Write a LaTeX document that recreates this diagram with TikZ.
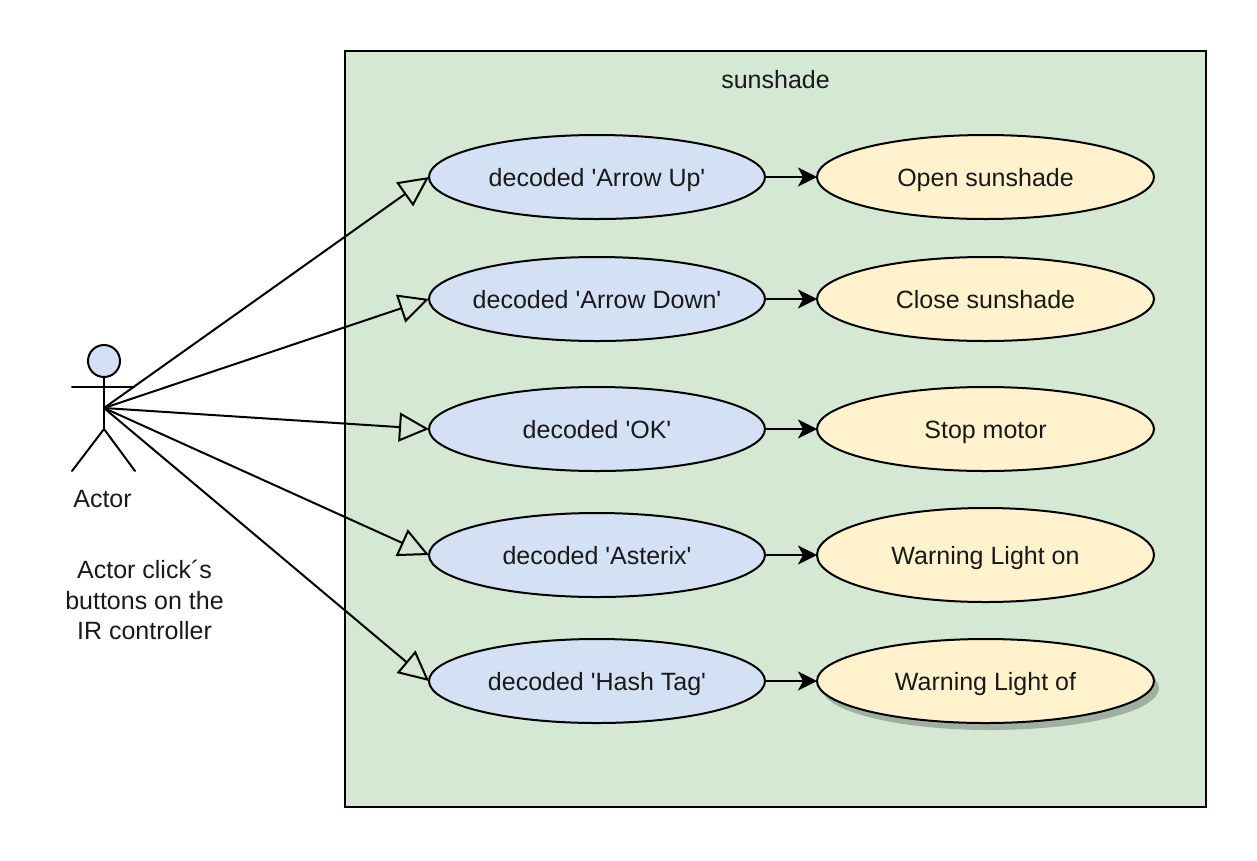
\documentclass[tikz,border=0pt]{standalone}
\usepackage{fontspec}
\setmainfont{Liberation Sans}[Ligatures=TeXOff]
\usetikzlibrary{arrows.meta,shapes.geometric,shadows}
\definecolor{boxgreen}{HTML}{D5E8D4}
\definecolor{ucblue}{HTML}{D4E1F5}
\definecolor{ucyellow}{HTML}{FFF2CC}
\definecolor{shadowgreen}{HTML}{9FB0A0}
\tikzset{
  every node/.style={font=\fontsize{25}{30.5}\selectfont, text=black!90},
  usecase/.style={ellipse, draw=black, line width=2pt, inner xsep=-50pt, inner ysep=0pt, outer sep=0pt, minimum width=336pt, minimum height=84pt, text height=24pt, text depth=6pt},
  trigger/.style={usecase, fill=ucblue},
  result/.style={usecase, fill=ucyellow, minimum width=337pt},
  gen/.style={line width=2pt, -{Triangle[open, length=30pt, width=29pt, line width=2pt]}},
  flow/.style={line width=2pt, -{Stealth[length=19pt, width=19pt, inset=5pt]}},
  stick/.style={line width=2pt, draw=black, line cap=round}
}
\begin{document}
\begin{tikzpicture}[x=1pt,y=-1pt]
\useasboundingbox (0,0) rectangle (1257,860);
\draw[fill=boxgreen, line width=2pt] (345,51) rectangle (1206,807);
\node (title) at (775.5,80) {sunshade};

\node[trigger] (a1) at (597,177) {decoded 'Arrow Up'};
\node[trigger] (a2) at (597,299) {decoded 'Arrow Down'};
\node[trigger] (a3) at (597,429) {decoded 'OK'};
\node[trigger] (a4) at (597,555) {decoded 'Asterix'};
\node[trigger] (a5) at (597,681) {decoded 'Hash Tag'};

\node[result] (b1) at (985.5,177) {Open sunshade};
\node[result] (b2) at (985.5,299) {Close sunshade};
\node[result] (b3) at (985.5,429) {Stop motor};
\node[result, minimum height=94pt] (b4) at (985.5,555) {Warning Light on};
\node[result, drop shadow={shadow xshift=5pt, shadow yshift=-7pt, fill=shadowgreen, opacity=1}] (b5) at (985.5,681) {Warning Light of};

\foreach \i in {1,...,5} \draw[flow] (a\i.east) -- (b\i.west);

% actor
\coordinate (hub) at (104,408);
\coordinate (hip) at (104,429);
\coordinate (armL) at (72,387);
\coordinate (armR) at (134,387);
\coordinate (legL) at (72,471);
\coordinate (legR) at (135,471);
\node[circle, draw=black, fill=ucblue, line width=2pt, minimum size=32pt, inner sep=0pt, outer sep=0pt] (head) at (104,361) {};
\draw[stick] (head.south) -- (hip);
\draw[stick] (armL) -- (armR);
\draw[stick] (legL) -- (hip) -- (legR);
\node (actor) at (102.5,499) {Actor};
\node[align=center] (note) at (144.5,600) {Actor click´s\\buttons on the\\IR controller};

\foreach \i in {1,...,5} \draw[gen] (hub) -- (a\i.west);
\end{tikzpicture}
\end{document}
